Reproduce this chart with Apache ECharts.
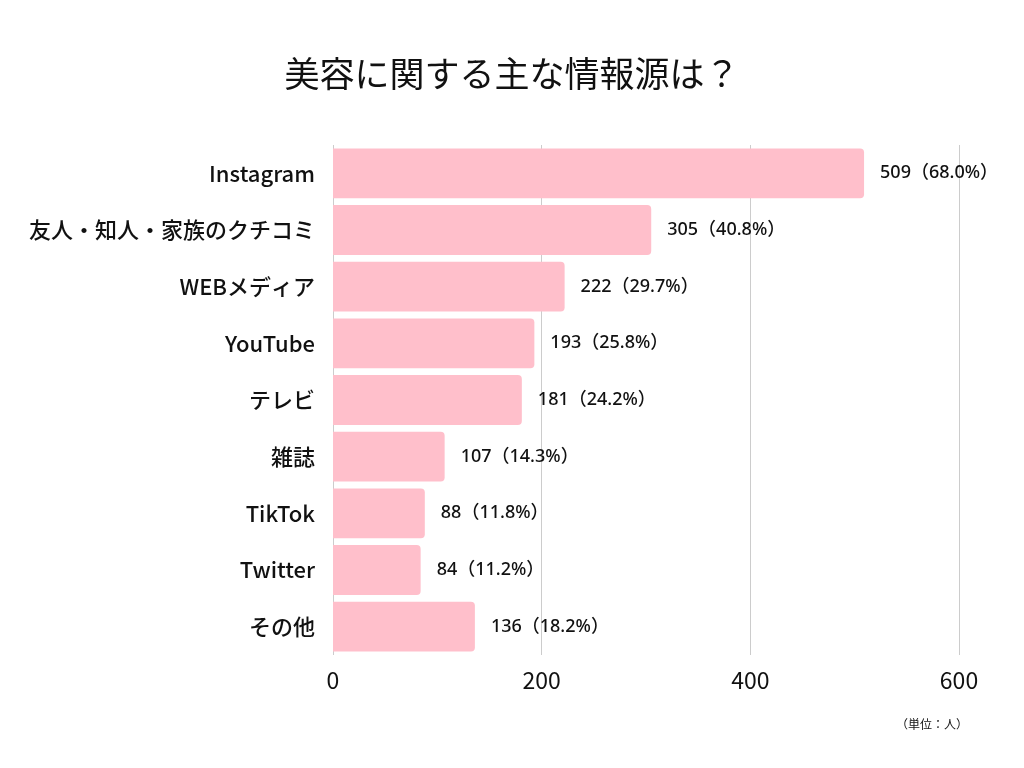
<!DOCTYPE html>
<html><head><meta charset="utf-8">
<script src="https://cdn.jsdelivr.net/npm/echarts@6/dist/echarts.min.js"></script>
<style>html,body{margin:0;padding:0;background:#fff}#c{width:1024px;height:768px}</style>
</head><body><div id="c"></div>
<script>
const categories = ["Instagram","友人・知人・家族のクチコミ","WEBメディア","YouTube","テレビ","雑誌","TikTok","Twitter","その他"];
const counts = [509,305,222,193,181,107,88,84,136];
const percents = ["68.0","40.8","29.7","25.8","24.2","14.3","11.8","11.2","18.2"];
const xTicks = [0,200,400,600];

const FONT = '"Noto Sans CJK JP","Noto Sans",sans-serif';
const chart = echarts.init(document.getElementById('c'));
chart.setOption({
  backgroundColor:'#fff',
  animation:false,
  title:[
    {text:'美容に関する主な情報源は？',left:'center',top:51,
     textStyle:{fontFamily:FONT,fontSize:35,fontWeight:'normal',color:'#111'}},
    {text:'（単位：人）',left:891,top:713,
     textStyle:{fontFamily:FONT,fontSize:12,fontWeight:'normal',color:'#111'}}
  ],
  grid:{left:333,right:65,top:145,bottom:113,containLabel:false},
  xAxis:{type:'value',min:0,max:600,interval:200,
    axisLine:{show:false},axisTick:{show:false},
    splitLine:{show:true,lineStyle:{color:'#cccccc',width:1}},
    axisLabel:{margin:14,fontFamily:FONT,fontSize:23,color:'#111',
      formatter:v=>xTicks.includes(v)?String(v):''}},
  yAxis:{type:'category',inverse:true,data:categories,
    axisLine:{show:false},axisTick:{show:false},
    axisLabel:{margin:18,fontFamily:FONT,fontSize:22,color:'#111',fontWeight:500}},
  series:[{type:'bar',data:counts,barCategoryGap:'12%',
    itemStyle:{color:'#FFBFCB',borderRadius:[0,4,4,0]},
    label:{show:true,position:'right',distance:16,fontFamily:'"Noto Sans","Noto Sans CJK JP",sans-serif',fontSize:18,color:'#111',fontWeight:500,
      formatter:p=>p.value+'（'+percents[p.dataIndex]+'%）'}}]
});
</script></body></html>
